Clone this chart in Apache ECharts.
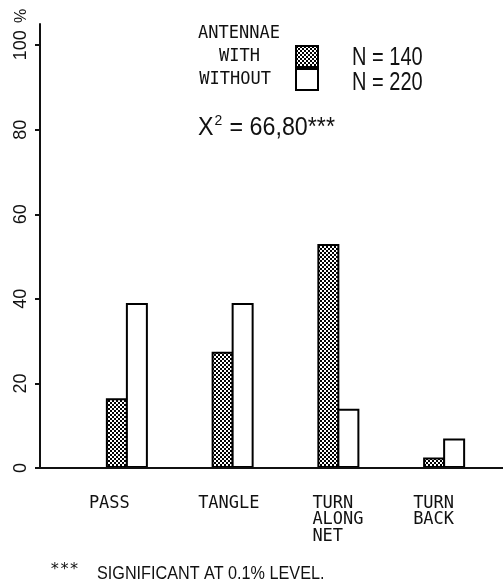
<!DOCTYPE html>
<html><head><meta charset="utf-8">
<script src="https://cdn.jsdelivr.net/npm/echarts@6/dist/echarts.min.js"></script>
<style>html,body{margin:0;padding:0;background:#fff}#c{width:503px;height:586px}</style>
</head><body><div id="c"></div>
<script>
// ---- data ----
const categories = ['PASS', 'TANGLE', 'TURN\nALONG\nNET', 'TURN\nBACK'];
const seriesNames = ['WITH', 'WITHOUT'];
const withAntennae = [16.5, 27.5, 53, 2.5];
const withoutAntennae = [39, 39, 14, 7];
const yTickValues = [0, 20, 40, 60, 80, 100];
const sampleSizes = ['N = 140', 'N = 220'];
const legendTitle = 'ANTENNAE';
const chiSquareValue = '66,80***';
const footnoteMark = '***';
const footnoteText = 'SIGNIFICANT AT 0.1% LEVEL.';

// ---- styling ----
const MONO = "'DejaVu Sans Mono', monospace";
const SANS = "'Liberation Sans', Arial, sans-serif";
const INK = '#111';
const GRID_LEFT = 74, GRID_RIGHT = 6, GRID_TOP = 24, GRID_BOTTOM = 118, Y_OFFSET = 34;
const labelBoxWidths = [76, 69, 52, 62];
const legendTextPad = [31, 20];

function makePattern() {
  const c = document.createElement('canvas');
  c.width = 4; c.height = 4;
  const g = c.getContext('2d');
  g.fillStyle = '#fff'; g.fillRect(0, 0, 4, 4);
  g.fillStyle = '#000';
  for (let y = 0; y < 4; y++) for (let x = 0; x < 4; x++) {
    if ((((x >> 1) + (y >> 1)) % 2) === 0) g.fillRect(x, y, 1, 1);
  }
  return c;
}
const pattern = { image: makePattern(), repeat: 'repeat' };

const rich = {};
labelBoxWidths.forEach((w, i) => {
  rich['k' + i] = { width: w, align: 'left', fontFamily: MONO, fontSize: 17, lineHeight: 16.5, color: INK };
});
const legendRich = {};
legendTextPad.forEach((p, i) => {
  legendRich['l' + i] = { padding: [0, p, 0, 0], lineHeight: 21, fontFamily: MONO, fontSize: 17, color: INK };
});

const chart = echarts.init(document.getElementById('c'), null, { renderer: 'canvas' });
const option = {
  backgroundColor: '#fff',
  animation: false,
  grid: { left: GRID_LEFT, right: GRID_RIGHT, top: GRID_TOP, bottom: GRID_BOTTOM, containLabel: false },
  title: [
    { text: legendTitle, left: 198, top: 25, padding: 0,
      textStyle: { fontFamily: MONO, fontSize: 17, fontWeight: 'normal', color: INK } }
  ],
  legend: {
    orient: 'vertical', right: 503 - 319, top: 45, padding: 0, align: 'right',
    itemWidth: 22, itemHeight: 21, itemGap: 0, icon: 'rect',
    data: seriesNames,
    formatter: n => '{l' + seriesNames.indexOf(n) + '|' + n + '}',
    textStyle: { rich: legendRich }
  },
  xAxis: {
    type: 'category', data: categories,
    axisLine: { show: false }, axisTick: { show: false },
    axisLabel: {
      margin: 27, interval: 0, align: 'center', verticalAlign: 'top',
      formatter: (v, i) => v.split('\n').map(s => '{k' + i + '|' + s + '}').join('\n'),
      rich: rich
    }
  },
  yAxis: {
    type: 'value', min: 0, max: 105, offset: Y_OFFSET,
    splitLine: { show: false },
    axisLine: { show: true, lineStyle: { color: INK, width: 2 } },
    axisTick: { show: true, length: 5, customValues: yTickValues, lineStyle: { color: INK, width: 2 } },
    axisLabel: { customValues: yTickValues, rotate: 90, margin: 10, fontFamily: SANS, fontSize: 18, color: INK }
  },
  series: [
    { type: 'bar', name: seriesNames[0], data: withAntennae, barWidth: 22, barGap: '-9%',
      itemStyle: { color: pattern, borderColor: '#000', borderWidth: 2 } },
    { type: 'bar', name: seriesNames[1], data: withoutAntennae, barWidth: 22, barGap: '-9%',
      itemStyle: { color: '#fff', borderColor: '#000', borderWidth: 2 } }
  ],
  graphic: [
    { id: 'pct', type: 'text', x: 22, y: 16, rotation: Math.PI / 2,
      style: { text: '%', fontFamily: SANS, fontSize: 16, fill: INK, align: 'center', verticalAlign: 'middle' } },
    { id: 'n1', type: 'text', x: 352, y: 45, scaleX: 0.77,
      style: { text: sampleSizes[0], fontFamily: SANS, fontSize: 26, fill: INK, align: 'left', verticalAlign: 'top' } },
    { id: 'n2', type: 'text', x: 352, y: 70, scaleX: 0.77,
      style: { text: sampleSizes[1], fontFamily: SANS, fontSize: 26, fill: INK, align: 'left', verticalAlign: 'top' } },
    { id: 'chi', type: 'text', x: 198, y: 113, scaleX: 0.93,
      style: { text: '{a|X}{s|2}{a| = ' + chiSquareValue + '}', align: 'left', verticalAlign: 'top',
        rich: {
          a: { fontFamily: SANS, fontSize: 25, fill: INK, color: INK, verticalAlign: 'bottom', lineHeight: 28 },
          s: { fontFamily: SANS, fontSize: 15, fill: INK, color: INK, verticalAlign: 'top', lineHeight: 28, padding: [0, 1, 12, 1] }
        } } },
    { id: 'fm', type: 'text', x: 50, y: 562,
      style: { text: footnoteMark, fontFamily: MONO, fontSize: 16, fill: INK, align: 'left', verticalAlign: 'top' } },
    { id: 'ft', type: 'text', x: 97, y: 565, scaleX: 0.9,
      style: { text: footnoteText, fontFamily: SANS, fontSize: 18, fill: INK, align: 'left', verticalAlign: 'top' } }
  ]
};
chart.setOption(option);
const y0 = chart.convertToPixel({ yAxisIndex: 0 }, 0);
chart.setOption({ graphic: [
  { id: 'base', type: 'line', z: 10,
    shape: { x1: GRID_LEFT - Y_OFFSET, y1: y0, x2: chart.getWidth(), y2: y0 },
    style: { stroke: INK, lineWidth: 2 } }
] });
</script>
</body></html>
